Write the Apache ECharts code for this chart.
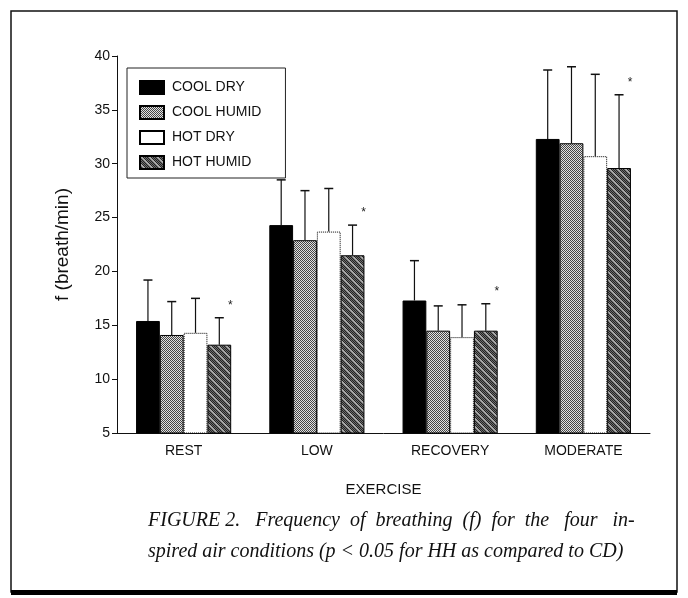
<!DOCTYPE html>
<html><head><meta charset="utf-8">
<script src="https://cdn.jsdelivr.net/npm/echarts@6/dist/echarts.min.js"></script>
<style>html,body{margin:0;padding:0;background:#fff}#c{width:688px;height:598px}</style>
</head><body><div id="c"></div>
<script>
const categories = ['REST', 'LOW', 'RECOVERY', 'MODERATE'];
const conditions = ['COOL DRY', 'COOL HUMID', 'HOT DRY', 'HOT HUMID'];
const coolDry   = [15.4, 24.3, 17.3, 32.3];
const coolHumid = [14.1, 22.9, 14.5, 31.9];
const hotDry    = [14.3, 23.7, 13.9, 30.7];
const hotHumid  = [13.2, 21.5, 14.5, 29.6];
const coolDryErr   = [3.8, 4.2, 3.7, 6.4];
const coolHumidErr = [3.1, 4.6, 2.3, 7.1];
const hotDryErr    = [3.2, 4.0, 3.0, 7.6];
const hotHumidErr  = [2.5, 2.8, 2.5, 6.8];
const significant  = [1, 1, 1, 1];   // * : p < 0.05 HH vs CD
const yMin = 5, yMax = 40, yStep = 5;
const xAxisTitle = 'EXERCISE';
const yAxisTitle = 'f (breath/min)';
const captionLines = [
  'FIGURE 2.   Frequency  of  breathing  (f)  for  the   four   in-',
  'spired air conditions (p < 0.05 for HH as compared to CD)'
];

function makePattern(kind) {
  const n = 8;
  const c = document.createElement('canvas');
  c.width = n; c.height = n;
  const ctx = c.getContext('2d');
  const img = ctx.createImageData(n, n);
  for (let y = 0; y < n; y++) for (let x = 0; x < n; x++) {
    let v;
    if (kind === 'ch') {
      v = ((x + y) % 2 === 0) ? 70 : 225;
    } else {
      const stripe = ((x - y + 64) % 8) < 2;
      v = stripe ? 170 : (((x + y) % 2 === 0) ? 35 : 110);
    }
    const i = (y * n + x) * 4;
    img.data[i] = img.data[i + 1] = img.data[i + 2] = v;
    img.data[i + 3] = 255;
  }
  ctx.putImageData(img, 0, 0);
  return { image: c, repeat: 'repeat' };
}

const values = [coolDry, coolHumid, hotDry, hotHumid];
const errs = [coolDryErr, coolHumidErr, hotDryErr, hotHumidErr];
const fills = ['#000', makePattern('ch'), '#fff', makePattern('hh')];
const CAT_GAP = 0.286;

const errData = [];
for (let s = 0; s < 4; s++) for (let k = 0; k < categories.length; k++)
  errData.push([k, s, values[s][k], errs[s][k], s === 3 ? significant[k] : 0]);

const barSeries = conditions.map((name, s) => ({
  name, type: 'bar', data: values[s],
  barGap: '0%', barCategoryGap: (CAT_GAP * 100) + '%',
  itemStyle: { color: fills[s], borderColor: '#000', borderWidth: 1,
    borderType: s === 2 ? 'dotted' : 'solid' },
  emphasis: { disabled: true }, z: 2
}));

const errSeries = {
  type: 'custom', data: errData, z: 5, silent: true,
  renderItem(params, api) {
    const k = api.value(0), s = api.value(1), m = api.value(2), e = api.value(3), sig = api.value(4);
    const base = api.coord([k, m]);
    const top = api.coord([k, m + e]);
    const band = api.size([1, 0])[0];
    const bw = band * (1 - CAT_GAP) / 4;
    const x = base[0] + (s - 1.5) * bw;
    const children = [
      { type: 'line', shape: { x1: x, y1: base[1], x2: x, y2: top[1] }, style: { stroke: '#111', lineWidth: 1.2 } },
      { type: 'line', shape: { x1: x - 4.5, y1: top[1], x2: x + 4.5, y2: top[1] }, style: { stroke: '#111', lineWidth: 1.5 } }
    ];
    if (sig) children.push({ type: 'text', x: x + 11, y: top[1] - 12,
      style: { text: '*', fill: '#222', font: '12px "Liberation Sans"', align: 'center', verticalAlign: 'middle' } });
    return { type: 'group', children };
  }
};

const chart = echarts.init(document.getElementById('c'), null, { renderer: 'canvas' });
chart.setOption({
  backgroundColor: '#fff',
  animation: false,
  grid: { left: 117, right: 38, top: 56, bottom: 165 },
  legend: {
    data: conditions, orient: 'vertical', left: 127, top: 68,
    padding: [12, 24, 8, 12], itemGap: 10, itemWidth: 24, itemHeight: 13,
    borderColor: '#222', borderWidth: 1, icon: 'rect', selectedMode: false,
    textStyle: { fontFamily: 'Liberation Sans', fontSize: 14, lineHeight: 14, color: '#111', padding: [0, 0, 0, 3] }
  },
  xAxis: {
    type: 'category', data: categories,
    name: xAxisTitle, nameLocation: 'middle', nameGap: 49,
    nameTextStyle: { fontFamily: 'Liberation Sans', fontSize: 15, color: '#111' },
    axisLine: { lineStyle: { color: '#111', width: 1 } },
    axisTick: { show: false },
    axisLabel: { fontFamily: 'Liberation Sans', fontSize: 14, color: '#111', margin: 11 }
  },
  yAxis: {
    type: 'value', min: yMin, max: yMax, interval: yStep,
    name: yAxisTitle, nameLocation: 'middle', nameGap: 45,
    nameTextStyle: { fontFamily: 'Liberation Sans', fontSize: 19, color: '#111' },
    axisLine: { show: true, lineStyle: { color: '#111', width: 1 } },
    axisTick: { show: true, length: 5, lineStyle: { color: '#111' } },
    splitLine: { show: false },
    axisLabel: { fontFamily: 'Liberation Sans', fontSize: 14, color: '#111', margin: 7 }
  },
  graphic: [
    { type: 'rect', shape: { x: 11, y: 11, width: 666, height: 581 }, style: { fill: 'none', stroke: '#111', lineWidth: 1.5 }, silent: true },
    { type: 'rect', shape: { x: 11, y: 590, width: 666, height: 5 }, style: { fill: '#000' }, silent: true },
    { type: 'text', left: 148, top: 511, style: { text: captionLines[0], font: 'italic 20px "Liberation Serif"', fill: '#111' } },
    { type: 'text', left: 148, top: 542, style: { text: captionLines[1], font: 'italic 20px "Liberation Serif"', fill: '#111' } }
  ],
  series: [...barSeries, errSeries]
});
</script></body></html>
